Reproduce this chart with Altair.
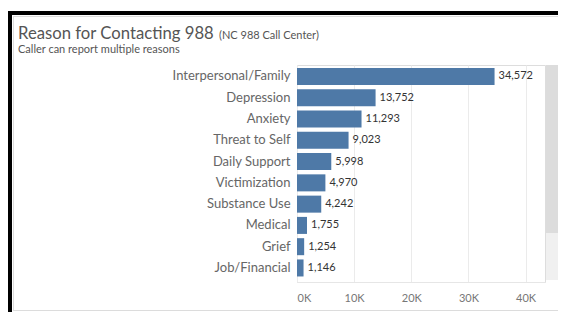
import altair as alt
import pandas as pd

reasons = ["Interpersonal/Family", "Depression", "Anxiety", "Threat to Self",
           "Daily Support", "Victimization", "Substance Use", "Medical", "Grief",
           "Job/Financial"]
counts = [34572, 13752, 11293, 9023, 5998, 4970, 4242, 1755, 1254, 1146]
x_ticks = [0, 10000, 20000, 30000, 40000]

title_main = "Reason for Contacting 988"
title_note = "(NC 988 Call Center)"
subtitle = "Caller can report multiple reasons"

df = pd.DataFrame({"reason": reasons, "count": counts})
one = pd.DataFrame({"k": [0]})

W, H = 248, 217
FONT = "Lato"

xenc = alt.X(
    "count:Q",
    scale=alt.Scale(domain=[0, 43400], nice=False),
    axis=alt.Axis(values=x_ticks, labelExpr="format(datum.value/1000,'d')+'K'",
                  title=None, grid=True, gridColor="#ebebeb", domain=True,
                  domainColor="#e6e6e6", ticks=False, labelColor="#777",
                  labelFontSize=11, labelPadding=10, labelFont=FONT),
)
yenc = alt.Y(
    "reason:N", sort=reasons,
    scale=alt.Scale(paddingInner=0.2, paddingOuter=0.2, align=0.35),
    axis=alt.Axis(title=None, ticks=False, domain=False, labelFontSize=13,
                  labelColor="#666", labelPadding=7, labelFont=FONT),
)

bars = alt.Chart(df).mark_bar(color="#4e79a7").encode(x=xenc, y=yenc)
values = alt.Chart(df).mark_text(align="left", dx=4, fontSize=11, color="#333",
                                 font=FONT).encode(
    x="count:Q", y=alt.Y("reason:N", sort=reasons),
    text=alt.Text("count:Q", format=","))

deco = alt.Chart(one)
scroll_bg = deco.mark_rect(color="#f0f0f0").encode(
    x=alt.value(249), x2=alt.value(264), y=alt.value(0), y2=alt.value(215))
scroll_fg = deco.mark_rect(color="#dcdcdc").encode(
    x=alt.value(249), x2=alt.value(264), y=alt.value(0), y2=alt.value(168))
border = deco.mark_rect(fill=None, stroke="#b8b8b8", strokeDash=[1, 1],
                        strokeWidth=1).encode(
    x=alt.value(-283.5), x2=alt.value(266.5), y=alt.value(-48.5), y2=alt.value(245.5))
black_top = deco.mark_rect(color="#000").encode(
    x=alt.value(-290), x2=alt.value(269), y=alt.value(-54), y2=alt.value(-50))
black_left = deco.mark_rect(color="#000").encode(
    x=alt.value(-290), x2=alt.value(-285), y=alt.value(-54), y2=alt.value(247))

t1 = deco.mark_text(align="left", baseline="alphabetic", fontSize=16.7,
                    color="#555", font=FONT).encode(
    x=alt.value(-279), y=alt.value(-26), text=alt.value(title_main))
t2 = deco.mark_text(align="left", baseline="alphabetic", fontSize=11,
                    color="#555", font=FONT).encode(
    x=alt.value(-78), y=alt.value(-26), text=alt.value(title_note))
t3 = deco.mark_text(align="left", baseline="alphabetic", fontSize=11,
                    color="#555", font=FONT).encode(
    x=alt.value(-279), y=alt.value(-12), text=alt.value(subtitle))

chart = alt.layer(
    scroll_bg, scroll_fg, bars, values, border, black_top, black_left, t1, t2, t3
).properties(
    width=W, height=H,
    autosize=alt.AutoSizeParams(type="none"),
    padding={"left": 289, "top": 57, "right": 13, "bottom": 30},
).configure_view(stroke=None).configure(background="white")

chart.save("out.html", embed_options={"renderer": "svg", "actions": False})
